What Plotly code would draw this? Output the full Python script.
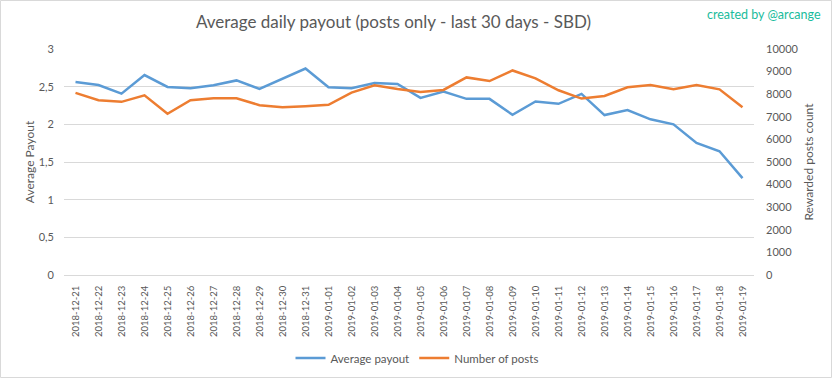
import plotly.graph_objects as go

dates = ["2018-12-21","2018-12-22","2018-12-23","2018-12-24","2018-12-25","2018-12-26",
         "2018-12-27","2018-12-28","2018-12-29","2018-12-30","2018-12-31","2019-01-01",
         "2019-01-02","2019-01-03","2019-01-04","2019-01-05","2019-01-06","2019-01-07",
         "2019-01-08","2019-01-09","2019-01-10","2019-01-11","2019-01-12","2019-01-13",
         "2019-01-14","2019-01-15","2019-01-16","2019-01-17","2019-01-18","2019-01-19"]

avg_payout = [2.561, 2.522, 2.408, 2.654, 2.496, 2.478, 2.518, 2.583, 2.469, 2.605,
              2.741, 2.491, 2.478, 2.548, 2.535, 2.351, 2.434, 2.338, 2.338, 2.127,
              2.303, 2.272, 2.404, 2.123, 2.190, 2.067, 2.000, 1.754, 1.643, 1.286]

num_posts = [8056, 7734, 7661, 7953, 7135, 7734, 7822, 7822, 7515, 7427,
             7471, 7529, 8070, 8392, 8231, 8099, 8187, 8743, 8582, 9050,
             8699, 8173, 7807, 7924, 8304, 8406, 8216, 8406, 8216, 7427]

W, H = 833, 379
ML, MR, MT, MB = 64, 79, 49, 104
PW, PH = W - ML - MR, H - MT - MB

FONT = "Lato"
GRAY = "#595959"
GRID = "#d9d9d9"

fig = go.Figure()
fig.add_trace(go.Scatter(x=dates, y=avg_payout, name="Average payout", mode="lines",
                         line=dict(color="#5B9BD5", width=2.5), yaxis="y"))
fig.add_trace(go.Scatter(x=dates, y=num_posts, name="Number of posts", mode="lines",
                         line=dict(color="#ED7D31", width=2.5), yaxis="y2"))

fig.update_layout(
    width=W, height=H, autosize=False,
    margin=dict(l=ML, r=MR, t=MT, b=MB, autoexpand=False),
    paper_bgcolor="white", plot_bgcolor="white",
    separators=",.",
    font=dict(family=FONT, color=GRAY, size=12),
    title=dict(text="Average daily payout (posts only - last 30 days - SBD)",
               x=393.5 / W, xref="container", xanchor="center",
               y=1 - 22 / H, yref="container", yanchor="middle",
               font=dict(family=FONT, size=17, color=GRAY)),
    xaxis=dict(type="category", range=[-0.5, len(dates) - 0.5], tickangle=-90,
               tickfont=dict(size=9.5, color=GRAY), automargin=False,
               showgrid=False, showline=True, linecolor=GRID, linewidth=1,
               ticks="", ticklabelstandoff=6, zeroline=False),
    yaxis=dict(range=[0, 3], dtick=0.5, tick0=0, showgrid=True, gridcolor=GRID, gridwidth=1,
               zeroline=False, showline=False, ticks="", ticklabelstandoff=9, automargin=False,
               tickfont=dict(size=11, color=GRAY),
               title=dict(text="Average Payout", font=dict(size=12, color=GRAY), standoff=1)),
    yaxis2=dict(range=[0, 10000], dtick=1000, tick0=0, overlaying="y", side="right",
                showgrid=False, zeroline=False, showline=False, ticks="", automargin=False,
                tickformat="d", ticklabelstandoff=11,
                tickfont=dict(size=11, color=GRAY),
                title=dict(text="Rewarded posts count", font=dict(size=12, color=GRAY), standoff=7)),
    legend=dict(orientation="h", xref="container", yref="container",
                x=417 / W, xanchor="center", y=1 - 358 / H, yanchor="middle",
                font=dict(size=11.5, color=GRAY), bgcolor="rgba(0,0,0,0)"),
    showlegend=True,
)

fig.add_annotation(text="created by @arcange", xref="paper", yref="paper",
                   x=(823 - ML) / PW, y=(H - MB - 14) / PH, xanchor="right", yanchor="middle",
                   showarrow=False, font=dict(family=FONT, size=12.5, color="#1ABC9C"))

fig.add_shape(type="rect", xref="paper", yref="paper",
              x0=(0.5 - ML) / PW, x1=(W - 1.5 - ML) / PW,
              y0=(H - MB - (H - 1.5)) / PH, y1=(H - MB - 0.5) / PH,
              line=dict(color=GRID, width=1), fillcolor="rgba(0,0,0,0)", layer="below")

fig.write_html("out.html", config={"displayModeBar": False},
               post_script="document.body.style.margin='0';document.body.style.padding='0';")
